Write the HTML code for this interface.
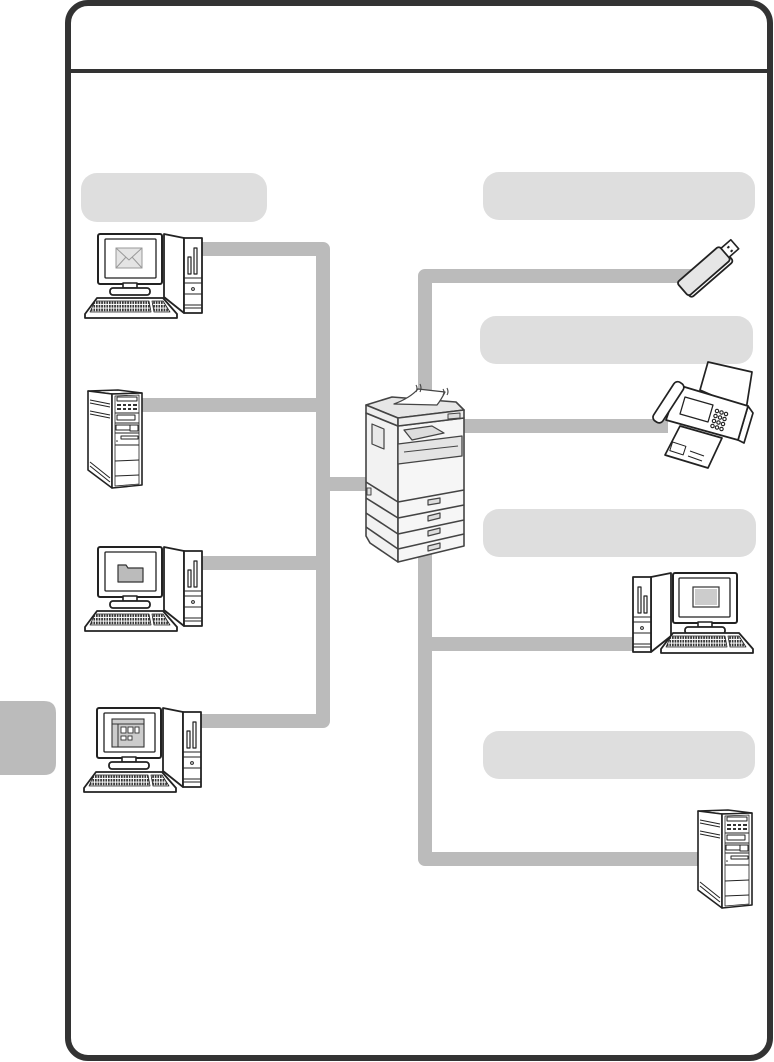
<!DOCTYPE html>
<html>
<head>
<meta charset="utf-8">
<style>
html,body{margin:0;padding:0;background:#fff;}
body{width:774px;height:1062px;overflow:hidden;font-family:"Liberation Sans",sans-serif;}
svg{display:block;}
</style>
</head>
<body>
<svg width="774" height="1062" viewBox="0 0 774 1062" xmlns="http://www.w3.org/2000/svg">
<defs>
  <pattern id="keys" width="2.6" height="3.6" patternUnits="userSpaceOnUse">
    <rect width="2.6" height="3.6" fill="#fff"/>
    <rect x="0" y="0" width="1.7" height="2.6" fill="#333"/>
  </pattern>
  <g id="tower" stroke="#222" stroke-linejoin="round" fill="#fff">
    <polygon points="81,1 101,5 101,80 81,64" stroke-width="1.8"/>
    <rect x="101" y="5" width="18" height="75" stroke-width="1.8"/>
    <rect x="105" y="24" width="3" height="17" stroke-width="1.2"/>
    <rect x="111" y="15" width="3" height="26" stroke-width="1.2"/>
    <g stroke-width="1.1">
      <line x1="101" y1="45" x2="119" y2="45"/>
      <line x1="101" y1="50" x2="119" y2="50"/>
      <line x1="101" y1="61" x2="119" y2="61"/>
      <line x1="101" y1="72" x2="119" y2="72"/>
      <line x1="101" y1="75" x2="119" y2="75"/>
    </g>
    <circle cx="110" cy="56" r="1.4" stroke-width="1"/>
  </g>
  <g id="monitor" stroke="#222" stroke-linejoin="round" fill="#fff">
    <rect x="15" y="1" width="64" height="50" rx="2" stroke-width="2"/>
    <rect x="22" y="6" width="51" height="39" rx="1" stroke-width="1.3"/>
    <rect x="40" y="50" width="14" height="5" stroke-width="1.6"/>
    <rect x="27" y="55" width="40" height="7" rx="3" stroke-width="1.8"/>
  </g>
  <g id="kbd" stroke="#222" stroke-linejoin="round">
    <polygon points="14,65 80,65 94,81 94,85 2,85 2,81" fill="#fff" stroke-width="1.8"/>
    <polygon points="12,68 66,68 68,79 7,79" fill="url(#keys)" stroke-width="0.8"/>
    <polygon points="69,68 80,68 87,79 71,79" fill="url(#keys)" stroke-width="0.8"/>
  </g>
  <g id="srv" stroke="#222" stroke-linejoin="round" fill="#fff">
    <polygon points="0,1 30,0 54,3 24,4" stroke-width="1.5"/>
    <polygon points="0,1 24,4 24,98 0,80" stroke-width="1.6"/>
    <g stroke-width="1">
      <line x1="2" y1="10" x2="22" y2="14"/>
      <line x1="2" y1="13" x2="22" y2="17"/>
      <line x1="2" y1="21" x2="22" y2="25"/>
      <line x1="2" y1="24" x2="22" y2="28"/>
      <line x1="2" y1="72" x2="22" y2="88"/>
      <line x1="2" y1="76" x2="22" y2="92"/>
    </g>
    <polygon points="24,4 54,3 54,95 24,98" stroke-width="1.6"/>
    <polygon points="27,6 51,5 51,94 27,96" stroke-width="0.8"/>
    <rect x="29" y="7" width="20" height="4" stroke-width="1"/>
    <g fill="#333" stroke="none">
      <rect x="29" y="14" width="4" height="2"/><rect x="35" y="14" width="3" height="2"/><rect x="40" y="14" width="3" height="2"/><rect x="45" y="14" width="4" height="2"/>
      <rect x="29" y="18" width="4" height="2"/><rect x="35" y="18" width="3" height="2"/><rect x="40" y="18" width="3" height="2"/><rect x="45" y="18" width="4" height="2"/>
    </g>
    <g stroke-width="1">
      <line x1="27" y1="23" x2="51" y2="23"/>
      <rect x="29" y="25" width="18" height="5"/>
      <line x1="27" y1="33" x2="51" y2="33"/>
      <rect x="28" y="35" width="14" height="5"/>
      <rect x="42" y="35" width="8" height="6"/>
      <line x1="27" y1="43" x2="51" y2="43"/>
      <rect x="33" y="46" width="17" height="3"/>
      <line x1="27" y1="55" x2="51" y2="55"/>
      <line x1="27" y1="71" x2="51" y2="70"/>
      <line x1="27" y1="86" x2="51" y2="85"/>
    </g>
    <circle cx="29" cy="51" r="0.8" fill="#222" stroke="none"/>
  </g>
</defs>

<!-- left tab -->
<path d="M0,701 H44 Q56,701 56,713 V763 Q56,775 44,775 H0 Z" fill="#bbbbbb"/>

<!-- frame -->
<rect x="68" y="3" width="702" height="1055" rx="20" ry="20" fill="#fff" stroke="#333" stroke-width="6"/>
<line x1="70" y1="71" x2="768" y2="71" stroke="#333" stroke-width="4"/>

<!-- label pills -->
<g fill="#dedede">
  <rect x="81" y="173" width="186" height="49" rx="16"/>
  <rect x="483" y="172" width="272" height="48" rx="16"/>
  <rect x="480" y="316" width="273" height="48" rx="16"/>
  <rect x="483" y="509" width="273" height="48" rx="16"/>
  <rect x="483" y="731" width="272" height="48" rx="16"/>
</g>

<!-- connectors -->
<g fill="none" stroke="#bbbbbb" stroke-width="14" stroke-linejoin="round">
  <path d="M200,249 H323 V721 H198"/>
  <path d="M140,405 H323"/>
  <path d="M200,563 H323"/>
  <path d="M323,484 H374"/>
  <path d="M692,276 H425 V420"/>
  <path d="M425,540 V859 H702"/>
  <path d="M460,426 H668"/>
  <path d="M425,644 H636"/>
</g>

<!-- left PCs -->
<g transform="translate(83,233)">
  <use href="#tower"/><use href="#monitor"/><use href="#kbd"/>
  <rect x="33" y="15" width="26" height="20" fill="#e4e4e4" stroke="#999" stroke-width="1"/>
  <polyline points="33,15 46,27 59,15" fill="none" stroke="#999" stroke-width="1"/>
  <line x1="33" y1="35" x2="43" y2="24" stroke="#999" stroke-width="1"/>
  <line x1="59" y1="35" x2="49" y2="24" stroke="#999" stroke-width="1"/>
</g>
<g transform="translate(83,546)">
  <use href="#tower"/><use href="#monitor"/><use href="#kbd"/>
  <path d="M35,19 H43 L45,22 H60 V36 H35 Z" fill="#bbb" stroke="#333" stroke-width="1.2" stroke-linejoin="round"/>
</g>
<g transform="translate(82,707)">
  <use href="#tower"/><use href="#monitor"/><use href="#kbd"/>
  <rect x="30" y="12" width="32" height="28" fill="#ccc" stroke="#333" stroke-width="1.1"/>
  <line x1="30" y1="17" x2="62" y2="17" stroke="#333" stroke-width="1"/>
  <line x1="36" y1="17" x2="36" y2="40" stroke="#333" stroke-width="1"/>
  <g fill="#fff" stroke="#333" stroke-width="0.9">
    <rect x="39" y="20" width="5" height="6"/><rect x="46" y="20" width="5" height="6"/><rect x="53" y="20" width="4" height="6"/>
    <rect x="39" y="29" width="5" height="4"/><rect x="46" y="29" width="4" height="4"/>
  </g>
</g>

<!-- left server -->
<use href="#srv" transform="translate(88,390)"/>
<!-- right server -->
<use href="#srv" transform="translate(698,810)"/>

<!-- right PC (mirrored) -->
<g transform="translate(752,572) scale(-1,1)">
  <use href="#tower"/><use href="#monitor"/>
  <rect x="33" y="15" width="26" height="20" fill="#fff" stroke="#333" stroke-width="1.2"/>
  <rect x="35" y="17" width="22" height="16" fill="#ccc" stroke="none"/>
</g>
<use href="#kbd" transform="translate(659,568)"/>

<!-- USB stick -->
<g transform="translate(709,268) rotate(-41)" stroke="#222" stroke-linejoin="round">
  <rect x="-33" y="-7" width="56" height="18" rx="3" fill="#fff" stroke-width="1.8"/>
  <rect x="-34" y="-10" width="56" height="18" rx="3" fill="#e6e6e6" stroke-width="1.8"/>
  <rect x="22" y="-7" width="13" height="12" fill="#fff" stroke-width="1.6"/>
  <rect x="27" y="-4" width="2.5" height="2" fill="#222" stroke="none"/>
  <rect x="27" y="1" width="2.5" height="2" fill="#222" stroke="none"/>
</g>

<!-- Fax -->
<g stroke="#222" stroke-width="1.7" stroke-linejoin="round" fill="#fff">
  <polygon points="708,362 752,372 746,410 700,390"/>
  <polygon points="680,426 722,438 708,468 665,455"/>
  <rect x="671" y="444" width="14" height="9" transform="rotate(18 678 448)" stroke-width="1"/>
  <line x1="690" y1="451" x2="704" y2="456" stroke-width="1"/>
  <line x1="688" y1="456" x2="702" y2="461" stroke-width="1"/>
  <polygon points="748,406 753,413 744,443 738,440"/>
  <polygon points="678,385 748,406 738,440 666,420"/>
  <rect x="-5" y="-23" width="11" height="46" rx="4.5" transform="translate(668,402) rotate(33)"/>
  <polygon points="685,397 713,405 708,422 680,414" stroke-width="1.3"/>
  <g stroke-width="1.1">
    <circle cx="717" cy="411" r="1.7"/><circle cx="721.5" cy="412.5" r="1.7"/><circle cx="726" cy="414" r="1.7"/>
    <circle cx="715.5" cy="416" r="1.7"/><circle cx="720" cy="417.5" r="1.7"/><circle cx="724.5" cy="419" r="1.7"/>
    <circle cx="714" cy="421" r="1.7"/><circle cx="718.5" cy="422.5" r="1.7"/><circle cx="723" cy="424" r="1.7"/>
    <circle cx="712.5" cy="426" r="1.7"/><circle cx="717" cy="427.5" r="1.7"/><circle cx="721.5" cy="429" r="1.7"/>
  </g>
</g>

<!-- Printer / MFP -->
<g stroke="#444" stroke-width="1.6" stroke-linejoin="round" fill="#f2f2f2">
  <polygon points="366,413 398,426 398,562 370,543 366,536"/>
  <polygon points="398,426 464,418 464,546 398,562" fill="#f6f6f6"/>
  <polygon points="366,405 392,397 456,402 464,410 398,418" fill="#e6e6e6"/>
  <polygon points="366,405 398,418 398,426 366,413" fill="#ededed"/>
  <polygon points="398,418 464,410 464,418 398,426" fill="#ededed"/>
  <path d="M394,404 Q410,398 418,389 L445,392 Q441,400 437,405 Z" fill="#fff" stroke-width="1.3"/>
  <path d="M416,385 q2,3 0,7 M420,384 q2,4 0,8 M443,389 q2,3 0,6 M447,388 q2,4 0,7" fill="none" stroke-width="1.1"/>
  <polygon points="404,430 432,426 444,433 412,440" fill="#ddd" stroke-width="1.3"/>
  <polygon points="448,414 460,413 460,418 448,419" fill="#ddd" stroke-width="1"/>
  <polygon points="372,424 384,429 384,449 372,444" fill="#e8e8e8" stroke-width="1.2"/>
  <polygon points="398,444 462,436 462,456 398,464" fill="#e4e4e4" stroke-width="1.3"/>
  <line x1="404" y1="452" x2="458" y2="446" stroke-width="1.1"/>
  <line x1="398" y1="502" x2="464" y2="490"/>
  <line x1="398" y1="518" x2="464" y2="505"/>
  <line x1="398" y1="534" x2="464" y2="520"/>
  <line x1="398" y1="549" x2="464" y2="534"/>
  <line x1="366" y1="482" x2="398" y2="502"/>
  <line x1="366" y1="498" x2="398" y2="518"/>
  <line x1="366" y1="513" x2="398" y2="534"/>
  <line x1="366" y1="527" x2="398" y2="549"/>
  <rect x="367" y="488" width="4" height="7" fill="#e0e0e0" stroke-width="1"/>
  <g fill="#ddd" stroke-width="1.2">
    <polygon points="428,500 440,498 440,503 428,505"/>
    <polygon points="428,516 440,513 440,518 428,521"/>
    <polygon points="428,531 440,528 440,533 428,536"/>
    <polygon points="428,546 440,543 440,548 428,551"/>
  </g>
</g>
</svg>
</body>
</html>
